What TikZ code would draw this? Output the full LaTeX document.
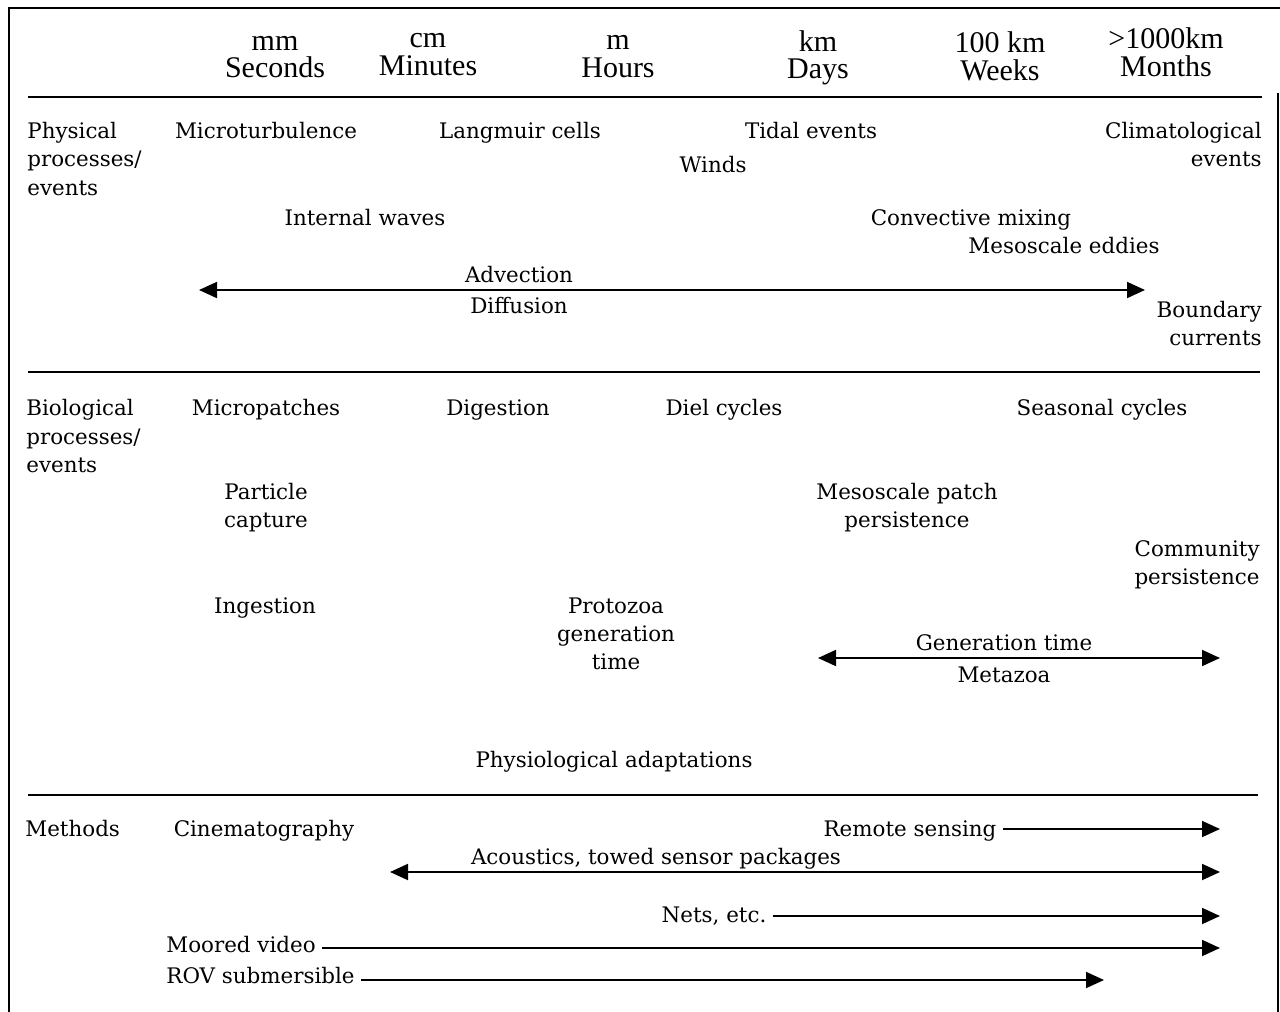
\documentclass[tikz,border=0pt]{standalone}
\usepackage{fontspec}
\setmainfont{DejaVu Serif}
\newfontfamily\hdrfont{Liberation Serif}
\usetikzlibrary{arrows.meta}
\begin{document}
\begin{tikzpicture}[x=0.5pt,y=-0.5pt,
  txt/.style={inner sep=0pt,anchor=base,font=\fontsize{10.7}{12.8}\selectfont},
  hdr/.style={inner sep=0pt,anchor=base,font=\hdrfont\fontsize{15}{16}\selectfont},
  frame/.style={line width=1pt},
  rulez/.style={line width=0.8pt},
  tip/.tip={Triangle[length=9pt,width=8pt]},
  arr/.style={line width=0.9pt,-tip,shorten <=3pt},
  darr/.style={line width=0.9pt,tip-tip}]
\useasboundingbox (0,0) rectangle (1280,1012);
% frame
\draw[frame] (9,1012) -- (9,8) -- (1280,8);
\draw[line width=0.6pt] (1278,93) -- (1278,1012);
% rules
\draw[rulez] (28,97) -- (1262,97);
\draw[rulez] (28,372) -- (1260,372);
\draw[rulez] (28,795) -- (1258,795);
% header
\node[hdr] (h1a) at (275,50) {mm};
\node[hdr] (h1b) at (275,77) {Seconds};
\node[hdr] (h2a) at (428,47) {cm};
\node[hdr] (h2b) at (428,75) {Minutes};
\node[hdr] (h3a) at (618,49) {m};
\node[hdr] (h3b) at (618,77) {Hours};
\node[hdr] (h4a) at (818,51) {km};
\node[hdr] (h4b) at (818,78) {Days};
\node[hdr] (h5a) at (1000,53) {100 km};
\node[hdr] (h5b) at (1000,80) {Weeks};
\node[hdr] (h6a) at (1166,48) {>1000km};
\node[hdr] (h6b) at (1166,76) {Months};
% physical
\node[txt,anchor=base west] (ph1) at (27,138) {Physical};
\node[txt,anchor=base west] (ph2) at (27,166) {processes/};
\node[txt,anchor=base west] (ph3) at (27,195) {events};
\node[txt] (microt) at (266,138) {Microturbulence};
\node[txt] (langm) at (520,138) {Langmuir cells};
\node[txt] (tidal) at (811,138) {Tidal events};
\node[txt,anchor=base east] (clim1) at (1262,138) {Climatological};
\node[txt,anchor=base east] (clim2) at (1262,166) {events};
\node[txt] (winds) at (713,172) {Winds};
\node[txt] (intw) at (365,225) {Internal waves};
\node[txt] (conv) at (971,225) {Convective mixing};
\node[txt] (meso) at (1064,253) {Mesoscale eddies};
\node[txt] (advec) at (519,282) {Advection};
\node[txt] (diffu) at (519,313) {Diffusion};
\coordinate (advL) at (199,290);
\coordinate (advR) at (1145,290);
\draw[darr] (advL) -- (advR);
\node[txt,anchor=base east] (bound1) at (1262,317) {Boundary};
\node[txt,anchor=base east] (bound2) at (1262,345) {currents};
% biological
\node[txt,anchor=base west] (bi1) at (26,415) {Biological};
\node[txt,anchor=base west] (bi2) at (26,444) {processes/};
\node[txt,anchor=base west] (bi3) at (26,472) {events};
\node[txt] (micropat) at (266,415) {Micropatches};
\node[txt] (digest) at (498,415) {Digestion};
\node[txt] (diel) at (724,415) {Diel cycles};
\node[txt] (season) at (1102,415) {Seasonal cycles};
\node[txt] (part1) at (266,499) {Particle};
\node[txt] (part2) at (266,527) {capture};
\node[txt] (mpp1) at (907,499) {Mesoscale patch};
\node[txt] (mpp2) at (907,527) {persistence};
\node[txt,anchor=base east] (comm1) at (1260,556) {Community};
\node[txt,anchor=base east] (comm2) at (1260,584) {persistence};
\node[txt] (ingest) at (265,613) {Ingestion};
\node[txt] (proto1) at (616,613) {Protozoa};
\node[txt] (proto2) at (616,641) {generation};
\node[txt] (proto3) at (616,669) {time};
\node[txt] (gent) at (1004,650) {Generation time};
\node[txt] (metaz) at (1004,682) {Metazoa};
\coordinate (genL) at (818,658);
\coordinate (genR) at (1220,658);
\draw[darr] (genL) -- (genR);
\node[txt] (physio) at (614,767) {Physiological adaptations};
% methods
\node[txt,anchor=base west] (meth) at (25,836) {Methods};
\node[txt] (cine) at (264,836) {Cinematography};
\node[txt] (remote) at (910,836) {Remote sensing};
\coordinate (remoteE) at (1220,829);
\draw[arr] (remote.east |- remoteE) -- (remoteE);
\node[txt] (acou) at (656,864) {Acoustics, towed sensor packages};
\coordinate (acouL) at (390,872);
\coordinate (acouR) at (1220,872);
\draw[darr] (acouL) -- (acouR);
\node[txt] (nets) at (714,922) {Nets, etc.};
\coordinate (netsE) at (1220,916);
\draw[arr] (nets.east |- netsE) -- (netsE);
\node[txt,anchor=base west] (moored) at (166,952) {Moored video};
\coordinate (mooredE) at (1220,948);
\draw[arr] (moored.east |- mooredE) -- (mooredE);
\node[txt,anchor=base west] (rov) at (166,983) {ROV submersible};
\coordinate (rovE) at (1104,980);
\draw[arr] (rov.east |- rovE) -- (rovE);
\end{tikzpicture}
\end{document}
